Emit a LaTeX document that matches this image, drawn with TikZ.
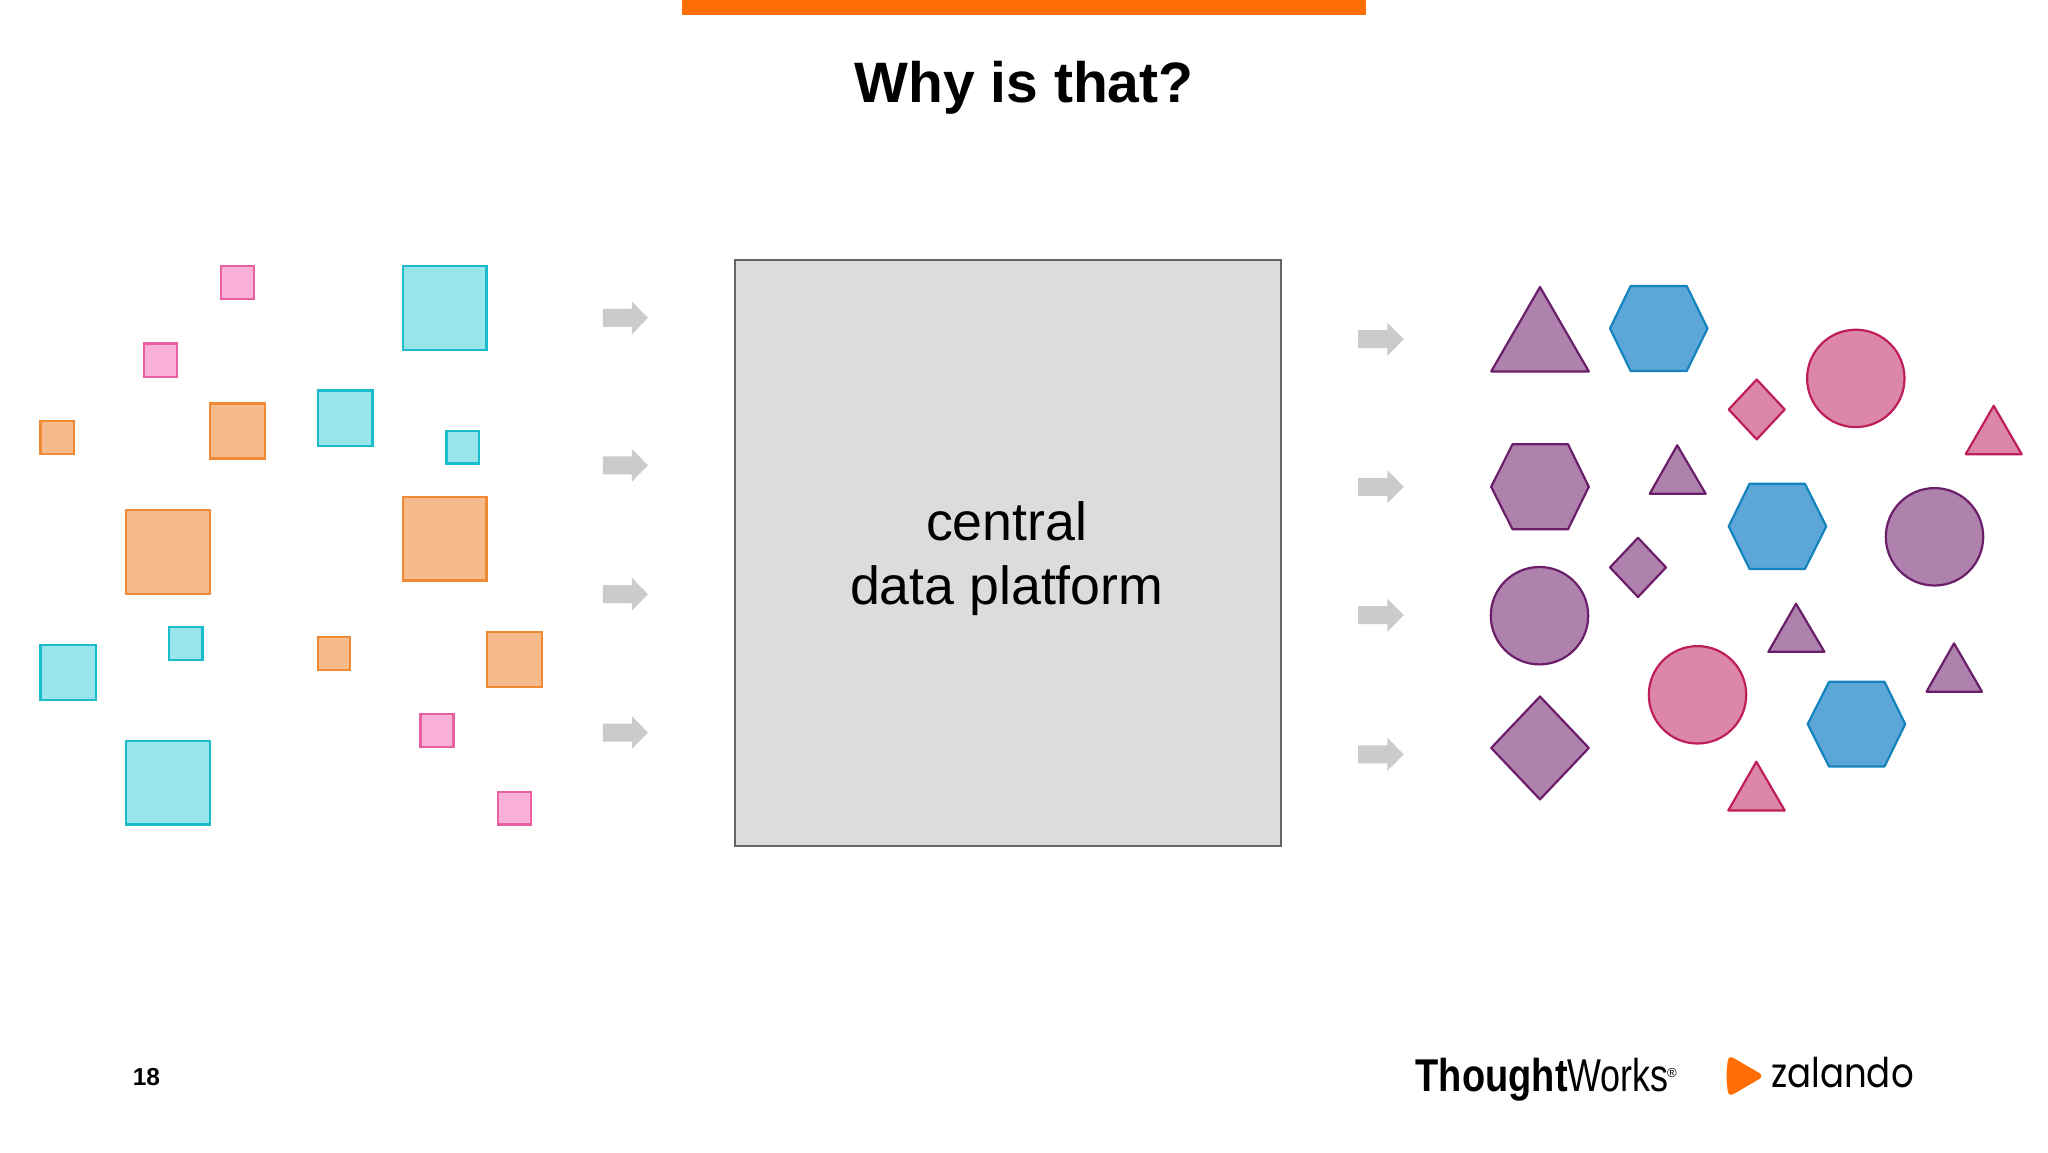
\documentclass[tikz,border=0pt]{standalone}
\usepackage{fontspec}
\setmainfont{Liberation Sans}
\newfontfamily\zfont{Poppins}
\definecolor{pinkF}{HTML}{FBB0D8}\definecolor{pinkS}{HTML}{E8609F}
\definecolor{cyanF}{HTML}{98E6EB}\definecolor{cyanS}{HTML}{1ABCCB}
\definecolor{oranF}{HTML}{F7BB8B}\definecolor{oranS}{HTML}{F08A35}
\definecolor{purpF}{HTML}{AE82AC}\definecolor{purpS}{HTML}{6B1F6B}
\definecolor{blueF}{HTML}{5CA7D8}\definecolor{blueS}{HTML}{1583BD}
\definecolor{roseF}{HTML}{DC86A8}\definecolor{roseS}{HTML}{BE1E5A}
\definecolor{arrowG}{HTML}{CBCBCD}
\definecolor{boxF}{HTML}{DCDBDE}
\definecolor{barO}{HTML}{FF6D05}
\tikzset{
  pinkshape/.style={fill=pinkF,draw=pinkS,line width=2.2pt},
  cyanshape/.style={fill=cyanF,draw=cyanS,line width=2.2pt},
  oranshape/.style={fill=oranF,draw=oranS,line width=2.2pt},
  purpshape/.style={fill=purpF,draw=purpS,line width=2.2pt,line join=round},
  blueshape/.style={fill=blueF,draw=blueS,line width=2.2pt,line join=round},
  roseshape/.style={fill=roseF,draw=roseS,line width=2.2pt,line join=round},
  blockarrow/.style={fill=arrowG,draw=none},
}
% x-left, y-top, x-right, y-bottom (outer edges of the stroke)
\newcommand\sqrshape[5]{\draw[#1] (#2+.6,#3+.6) rectangle (#4-.6,#5-.6);}
% x-left, x-mid, x-right, y-top, y-bottom
\newcommand\trishape[6]{\draw[#1] (#3,#5) -- (#4,#6) -- (#2,#6) -- cycle;}
% left, topL, topR, right, top, bottom
\newcommand\hexshape[7]{\draw[#1] (#2,{(#6+#7)/2}) -- (#3,#6) -- (#4,#6) -- (#5,{(#6+#7)/2}) -- (#4,#7) -- (#3,#7) -- cycle;}
% left, right, top, bottom
\newcommand\diashape[5]{\draw[#1] (#2,{(#4+#5)/2}) -- ({(#2+#3)/2},#4) -- (#3,{(#4+#5)/2}) -- ({(#2+#3)/2},#5) -- cycle;}
\newcommand\cirshape[4]{\draw[#1] (#2,#3) circle (#4);}
% left, head start, tip, mid y
\newcommand\barrow[4]{\fill[blockarrow] (#1,#4-9) -- (#2,#4-9) -- (#2,#4-16.5) -- (#3,#4) -- (#2,#4+16.5) -- (#2,#4+9) -- (#1,#4+9) -- cycle;}
\begin{document}
\begin{tikzpicture}[x=1pt,y=-1pt]
\useasboundingbox (0,0) rectangle (2048,1152);
\fill[white] (0,0) rectangle (2048,1152);
\fill[barO] (682,0) rectangle (1366,15.3);
\node[font=\bfseries\fontsize{57}{60}\selectfont,inner sep=0,anchor=base] (title) at (1024,102.7) {Why is that?};
% left squares
\sqrshape{pinkshape}{220.3}{265.7}{254.6}{299.7}
\sqrshape{cyanshape}{402}{265.7}{487}{350.7}
\sqrshape{pinkshape}{143}{342.8}{177.4}{377.2}
\sqrshape{oranshape}{39.9}{420.2}{74.2}{454.6}
\sqrshape{oranshape}{209.5}{402.8}{265.4}{459}
\sqrshape{cyanshape}{317}{389.8}{373}{446.3}
\sqrshape{cyanshape}{445.8}{430.5}{479.6}{464.1}
\sqrshape{oranshape}{125.3}{509.2}{210.3}{594.2}
\sqrshape{oranshape}{402}{496.5}{487}{581.1}
\sqrshape{cyanshape}{168.7}{626.2}{203}{660.2}
\sqrshape{cyanshape}{39.9}{644.3}{96.3}{700.5}
\sqrshape{oranshape}{317}{636}{350.8}{670.4}
\sqrshape{oranshape}{486.1}{631.3}{542.5}{687.4}
\sqrshape{pinkshape}{419.8}{713.5}{454}{747.5}
\sqrshape{cyanshape}{125.3}{740.4}{210.3}{825}
\sqrshape{pinkshape}{497.4}{791}{531.6}{825}
% arrows
\barrow{602.8}{631.8}{647.9}{317.9}
\barrow{602.8}{631.8}{647.9}{465.3}
\barrow{602.8}{631.8}{647.9}{594.2}
\barrow{602.8}{631.8}{647.9}{732.5}
\barrow{1358}{1387.4}{1403.7}{339.2}
\barrow{1358}{1387.4}{1403.7}{486.8}
\barrow{1358}{1387.4}{1403.7}{615.2}
\barrow{1358}{1387.4}{1403.7}{754.3}
% central box
\node[draw=black!60,fill=boxF,line width=2pt,minimum width=546pt,minimum height=586.5pt,inner sep=0,anchor=north west] (box) at (734,258.5) {};
\node[font=\fontsize{53.7}{64}\selectfont,align=center,inner sep=0] (boxtext) at (1006.7,559) {central\\data platform};
% right shapes
\trishape{purpshape}{1491.2}{1540}{1588.8}{287}{371.4}
\hexshape{blueshape}{1610}{1630.7}{1686.7}{1707.5}{285.9}{371}
\diashape{roseshape}{1728.7}{1784.7}{379.5}{439.4}
\cirshape{roseshape}{1855.8}{378.4}{48.7}
\trishape{roseshape}{1965.7}{1993.7}{2021.7}{405.8}{454.2}
\hexshape{purpshape}{1491.2}{1512.5}{1568}{1588.8}{444.2}{529.3}
\trishape{purpshape}{1649.7}{1677.2}{1705.7}{445.3}{493.8}
\hexshape{blueshape}{1728.7}{1749.5}{1805}{1826.2}{483.8}{568.9}
\cirshape{purpshape}{1934.5}{536.8}{48.7}
\diashape{purpshape}{1610}{1666}{537.8}{597}
\cirshape{purpshape}{1539.5}{615.7}{48.7}
\trishape{purpshape}{1768.4}{1796}{1824.4}{603.7}{651.8}
\trishape{purpshape}{1926.5}{1954}{1982}{643.3}{691.7}
\cirshape{roseshape}{1697.5}{694.8}{48.7}
\hexshape{blueshape}{1807.7}{1829}{1884.5}{1905.2}{681.8}{766.5}
\diashape{purpshape}{1491.2}{1588.8}{696.5}{799.4}
\trishape{roseshape}{1728.3}{1756.3}{1784.7}{761.7}{810.5}
% footer
\node[font=\bfseries\fontsize{24.5}{28}\selectfont,inner sep=0] (page) at (146.5,1077) {18};
\node[font=\bfseries\fontsize{46}{50}\selectfont,inner sep=0,anchor=base west] (tw1) at (1415.5,1091) {\scalebox{.826}[1]{Thought}};
\node[font=\fontsize{46}{50}\selectfont,inner sep=0,anchor=base west] (tw2) at (1567.5,1091) {\scalebox{.78}[1]{Works}};
\node[font=\fontsize{13}{14}\selectfont,inner sep=0] (twr) at (1672,1073) {®};
\draw[barO,fill=barO,line width=6pt,line join=round] (1731,1060) -- (1758.5,1076) -- (1731,1092) .. controls (1729,1081) and (1729,1071) .. (1731,1060) -- cycle;
\node[inner sep=0,anchor=south west] (zal) at (1771,1087.8) {\resizebox{142.5pt}{30.3pt}{\zfont zalando}};
\end{tikzpicture}
\end{document}
